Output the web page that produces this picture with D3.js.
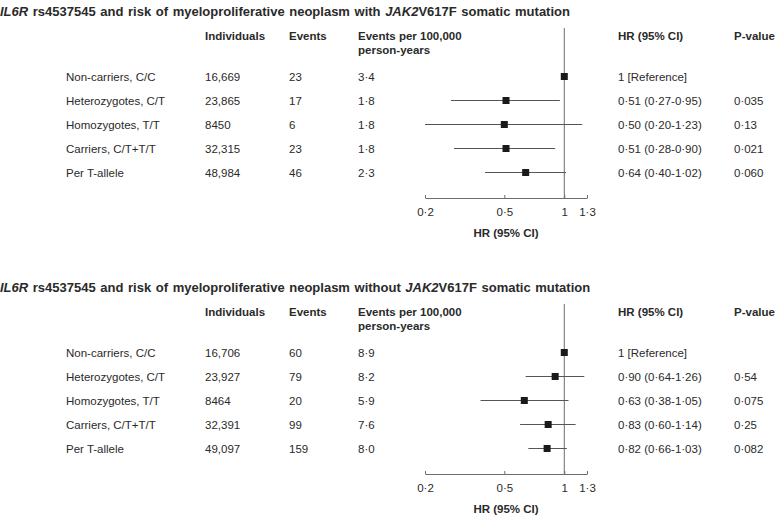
<!DOCTYPE html>
<html>
<head>
<meta charset="utf-8">
<script src="https://cdn.jsdelivr.net/npm/d3@7"></script>
<style>
  body { margin: 0; background: #fff; }
  text { font-family: "Liberation Sans", Arial, sans-serif; fill: #2a2a2a; }
  .axis text { font-size: 11.5px; fill: #2a2a2a; }
  .axis path, .axis line { stroke: #6b6b6b; }
</style>
</head>
<body>
<script>
// rows shared by both panels
let rowLabels = ["Non-carriers, C/C", "Heterozygotes, C/T", "Homozygotes, T/T", "Carriers, C/T+T/T", "Per T-allele"];
let headers = ["Individuals", "Events", "Events per 100,000", "person-years", "HR (95% CI)", "P-value"];
let axisTicks = [0.2, 0.5, 1, 1.3];

// with JAK2V617F
let withIndividuals = [16669, 23865, 8450, 32315, 48984];
let withEvents = [23, 17, 6, 23, 46];
let withRate = [3.4, 1.8, 1.8, 1.8, 2.3];
let withHR = [1, 0.51, 0.50, 0.51, 0.64];
let withLow = [null, 0.27, 0.20, 0.28, 0.40];
let withHigh = [null, 0.95, 1.23, 0.90, 1.02];
let withP = ["", "0·035", "0·13", "0·021", "0·060"];

// without JAK2V617F
let withoutIndividuals = [16706, 23927, 8464, 32391, 49097];
let withoutEvents = [60, 79, 20, 99, 159];
let withoutRate = [8.9, 8.2, 5.9, 7.6, 8.0];
let withoutHR = [1, 0.90, 0.63, 0.83, 0.82];
let withoutLow = [null, 0.64, 0.38, 0.60, 0.66];
let withoutHigh = [null, 1.26, 1.05, 1.14, 1.03];
let withoutP = ["", "0·54", "0·075", "0·25", "0·082"];

let width = 781, height = 520;

let dot = (s) => String(s).replace(".", "·");
let fmt2 = (v) => dot(v.toFixed(2));
let fmtN = (n) => n >= 10000 ? d3.format(",")(n) : String(n);

let x = d3.scaleLog()
    .domain([0.2, 1.3])
    .range([425, 587]);

let y = d3.scalePoint()
    .domain(rowLabels)
    .range([76.5, 172.5]);

let col = {label: 66, ind: 205, ev: 289, rate: 358, hr: 618, p: 734};

let svg = d3.select("body")
    .append("svg")
    .attr("width", width)
    .attr("height", height);

function drawPanel(top, word, ind, ev, rate, hr, lo, hi, pv) {
    let g = svg.append("g").attr("transform", `translate(0,${top})`);

    let title = g.append("text")
        .attr("x", 0).attr("y", 15.5)
        .attr("font-size", "13px").attr("font-weight", "bold")
        .attr("word-spacing", "1px");
    title.append("tspan").attr("font-style", "italic").text("IL6R");
    title.append("tspan").text(` rs4537545 and risk of myeloproliferative neoplasm ${word} `);
    title.append("tspan").attr("font-style", "italic").text("JAK2");
    title.append("tspan").text("V617F somatic mutation");

    let head = g.append("g").attr("font-size", "11.5px").attr("font-weight", "bold");
    head.append("text").attr("x", col.ind).attr("y", 39.5).text(headers[0]);
    head.append("text").attr("x", col.ev).attr("y", 39.5).text(headers[1]);
    head.append("text").attr("x", col.rate).attr("y", 39.5).text(headers[2]);
    head.append("text").attr("x", col.rate).attr("y", 53.5).text(headers[3]);
    head.append("text").attr("x", col.hr).attr("y", 39.5).text(headers[4]);
    head.append("text").attr("x", col.p).attr("y", 39.5).text(headers[5]);

    let rows = g.selectAll(".row")
        .data(rowLabels)
        .join("g")
        .attr("class", "row")
        .attr("font-size", "11.5px")
        .attr("transform", (d) => `translate(0,${y(d) + 4.2})`);

    rows.append("text").attr("x", col.label).text((d) => d);
    rows.append("text").attr("x", col.ind).text((d, i) => fmtN(ind[i]));
    rows.append("text").attr("x", col.ev).text((d, i) => ev[i]);
    rows.append("text").attr("x", col.rate).text((d, i) => dot(rate[i].toFixed(1)));
    rows.append("text").attr("x", col.hr)
        .text((d, i) => lo[i] == null ? "1 [Reference]" : `${fmt2(hr[i])} (${fmt2(lo[i])}-${fmt2(hi[i])})`);
    rows.append("text").attr("x", col.p).text((d, i) => pv[i]);

    // reference line at HR = 1
    g.append("line")
        .attr("x1", x(1)).attr("x2", x(1))
        .attr("y1", 28).attr("y2", 198)
        .attr("stroke", "#6b6b6b");

    // confidence intervals
    g.selectAll(".ci")
        .data(rowLabels.filter((d, i) => lo[i] != null))
        .join("line")
        .attr("class", "ci")
        .attr("x1", (d) => x(lo[rowLabels.indexOf(d)]))
        .attr("x2", (d) => x(hi[rowLabels.indexOf(d)]))
        .attr("y1", (d) => y(d)).attr("y2", (d) => y(d))
        .attr("stroke", "#555")
        .attr("stroke-width", 1);

    // point estimates
    g.selectAll(".est")
        .data(rowLabels)
        .join("rect")
        .attr("class", "est")
        .attr("x", (d, i) => x(hr[i]) - 3.5)
        .attr("y", (d) => y(d) - 3.5)
        .attr("width", 7).attr("height", 7)
        .attr("fill", "#1a1a1a");

    let xAxis = d3.axisBottom(x)
        .tickValues(axisTicks)
        .tickFormat(dot)
        .tickSizeInner(-3)
        .tickSizeOuter(0)
        .tickPadding(10);

    g.append("g")
        .attr("class", "axis")
        .attr("transform", "translate(0,198)")
        .call(xAxis)
        .call((a) => a.attr("font-family", null).attr("font-size", null));

    g.append("text")
        .attr("x", 506).attr("y", 237)
        .attr("text-anchor", "middle")
        .attr("font-size", "11.5px").attr("font-weight", "bold")
        .text("HR (95% CI)");
}

drawPanel(0, "with", withIndividuals, withEvents, withRate, withHR, withLow, withHigh, withP);
drawPanel(276, "without", withoutIndividuals, withoutEvents, withoutRate, withoutHR, withoutLow, withoutHigh, withoutP);
</script>
</body>
</html>
